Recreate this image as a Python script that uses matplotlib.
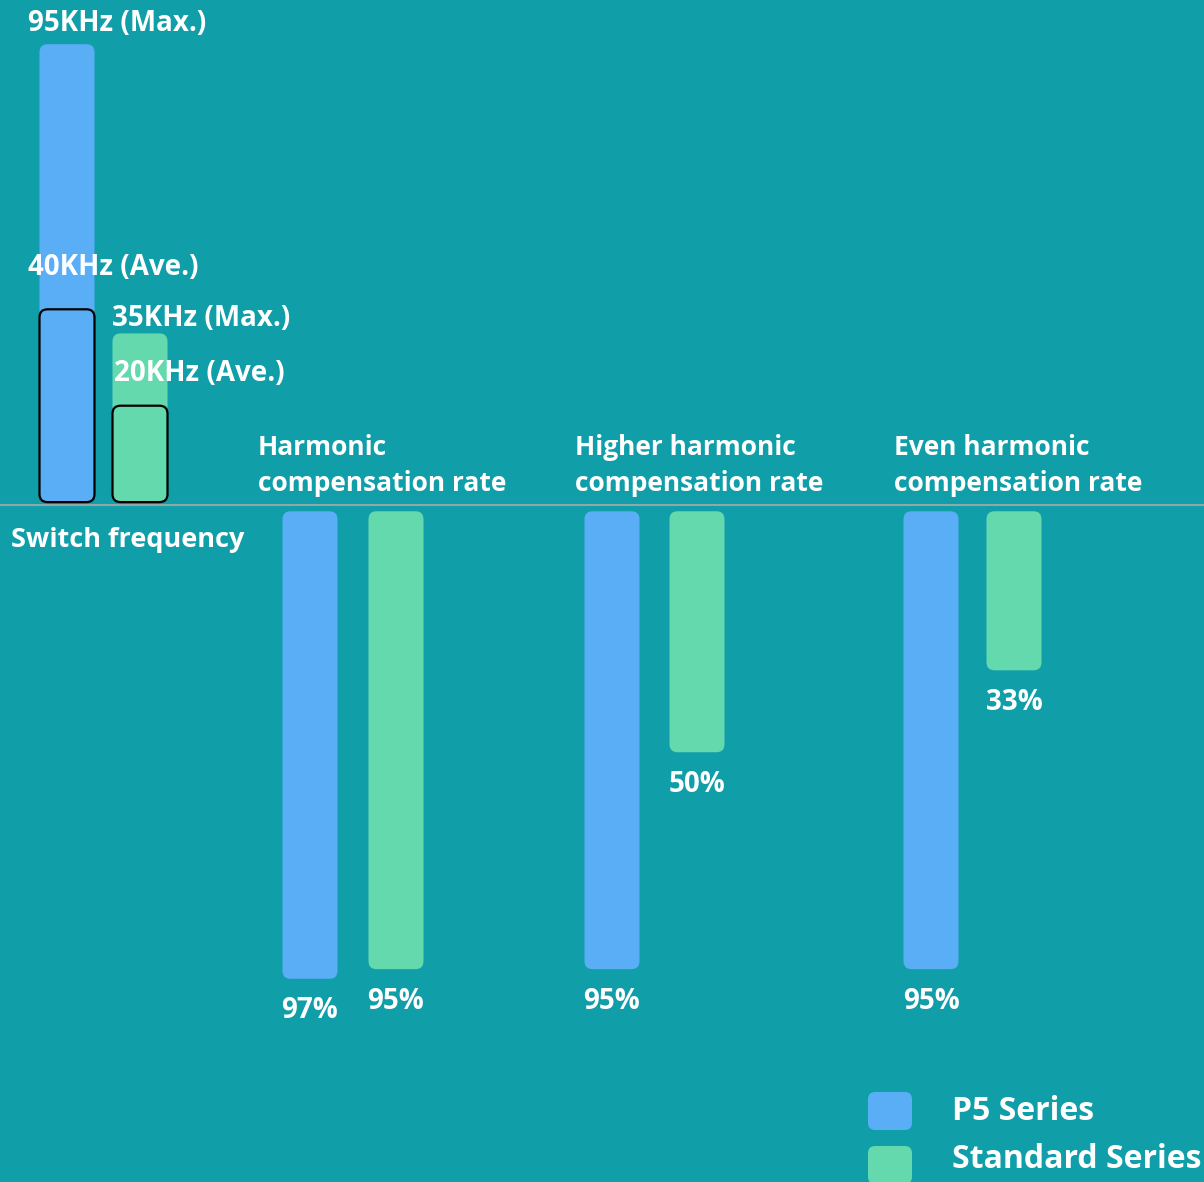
# infographic style comparison: P5 series vs standard series
import matplotlib.pyplot as plt
from matplotlib.patches import FancyBboxPatch

# data
switch_labels_p5 = ['95KHz (Max.)', '40KHz (Ave.)']
switch_labels_std = ['35KHz (Max.)', '20KHz (Ave.)']
p5_switch = [95, 40]      # max, average (KHz)
std_switch = [35, 20]
rate_categories = ['Harmonic\ncompensation rate',
                   'Higher harmonic\ncompensation rate',
                   'Even harmonic\ncompensation rate']
p5_rate = [97, 95, 95]    # %
std_rate = [95, 50, 33]
series = ['P5 Series', 'Standard Series']

# colours
bg = '#109ea9'
blue = '#5aaef5'
green = '#64d9ae'

# layout (pixel units across, value units up)
W, H = 1204, 1182
PX = 4.82                 # pixels per value unit
base_px = 505             # separator line, pixels from top
switch_x = [67, 140]
p5_x = [310, 612, 931]
std_x = [396, 697, 1014]
cat_x = [258, 575, 894]
bw = 55
font = 'Open Sans'

fig = plt.figure(figsize=(W / 100, H / 100), dpi=100, facecolor=bg)
ax = fig.add_axes([0, 0, 1, 1])
ax.set_facecolor(bg)
ax.set_xlim(0, W)
ax.set_ylim(-(H - base_px) / PX, base_px / PX)
ax.axis('off')


def rbar(x, y0, h, color, ec='none', lw=0, z=2):
    y = y0 if h > 0 else y0 + h
    p = FancyBboxPatch((x - bw / 2, y), bw, abs(h),
                       boxstyle='round,pad=0,rounding_size=8',
                       mutation_aspect=1 / PX, fc=color, ec=ec, lw=lw, zorder=z)
    ax.add_patch(p)


def label(x, y, s, dx=0, dy=0, ha='left', size=20):
    ax.annotate(s, (x, y), xytext=(dx, dy), textcoords='offset pixels',
                ha=ha, va='center', color='white', fontsize=size,
                fontweight='bold', family=font, zorder=5)


# separator
ax.axhline(0, color='#8fa9ab', lw=1.5, zorder=1)

# switch frequency (upwards)
rbar(switch_x[0], 0.6, p5_switch[0], blue, z=2)
rbar(switch_x[0], 0.6, p5_switch[1], blue, ec='black', lw=1.6, z=3)
rbar(switch_x[1], 0.6, std_switch[0], green, z=2)
rbar(switch_x[1], 0.6, std_switch[1], green, ec='black', lw=1.6, z=3)

label(switch_x[0] - bw / 2, p5_switch[0], switch_labels_p5[0], dx=-11, dy=24)
label(switch_x[0] - bw / 2, p5_switch[1], switch_labels_p5[1], dx=-11, dy=45)
label(switch_x[1] - bw / 2, std_switch[0], switch_labels_std[0], dx=-1, dy=18)
label(switch_x[1] - bw / 2, std_switch[1], switch_labels_std[1], dx=2, dy=35)
label(11, 0, 'Switch frequency', dy=-35, size=19.5)

# compensation rates (downwards)
for i, cat in enumerate(rate_categories):
    rbar(p5_x[i], -1.3, -p5_rate[i], blue)
    rbar(std_x[i], -1.3, -std_rate[i], green)
    label(p5_x[i], -p5_rate[i] - 1.3, f'{p5_rate[i]}%', dy=-32, ha='center')
    label(std_x[i], -std_rate[i] - 1.3, f'{std_rate[i]}%', dy=-32, ha='center')
    ax.text(cat_x[i], 8 / PX, cat, ha='left', va='bottom', color='white',
            fontsize=19, fontweight='bold', family=font, linespacing=1.45)

# legend
for j, (name, c) in enumerate(zip(series, [blue, green])):
    yc = 1 - (1111 + 54 * j) / H
    ax.add_patch(FancyBboxPatch((868 / W, yc - 19 / H), 44 / W, 38 / H,
                                boxstyle='round,pad=0,rounding_size=0.006',
                                mutation_aspect=W / H, transform=ax.transAxes,
                                fc=c, ec='none', clip_on=False))
    ax.text(952 / W, 1 - (1111 + 49 * j) / H, name, transform=ax.transAxes,
            ha='left', va='center', color='white', fontsize=23,
            fontweight='bold', family=font)

plt.savefig('out.png', dpi=100, facecolor=bg)
